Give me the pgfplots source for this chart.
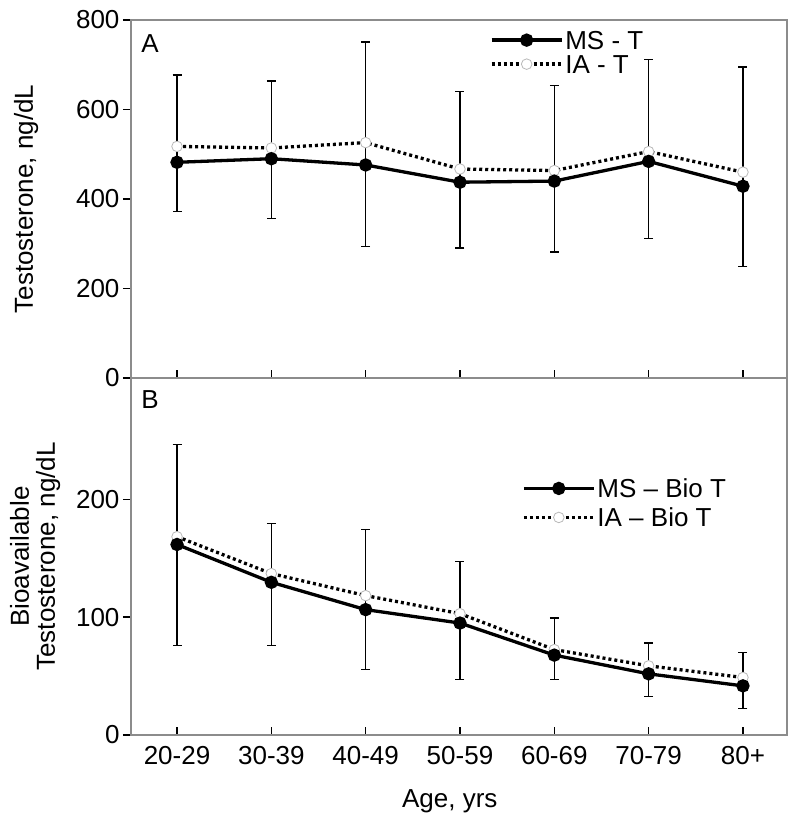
\documentclass[border=0pt]{standalone}
\usepackage{fontspec}
\setmainfont{Liberation Sans}
\usepackage{pgfplots}
\pgfplotsset{compat=1.18}
\definecolor{framegray}{gray}{0.55}
\pgfplotsset{
  panel/.style={
    scale only axis, width=656pt,
    xmin=-0.488, xmax=6.467,
    xtick={0,...,6},
    axis line style={framegray, line width=1.4pt},
    tick style={black, line width=1.4pt},
    major tick length=8pt,
    tick align=outside,
    x tick style={yshift=8pt},
    xtick pos=bottom, ytick pos=left,
    font=\fontsize{26}{30}\selectfont,
    tick label style={font=\fontsize{26}{30}\selectfont},
    /pgf/number format/assume math mode=true,
    clip=false,
    legend image code/.code={\draw[mark repeat=2,mark phase=2,##1] plot coordinates {(0pt,0pt)(35pt,0pt)(70pt,0pt)};},
    legend cell align=left,
  },
  msline/.style={black, line width=3.3pt, mark=*, mark size=5pt, mark options={solid, fill=black}},
  ialine/.style={black, line width=3.3pt, dash pattern=on 3pt off 3pt, mark=*, mark size=5.3pt, mark options={solid, fill=white, draw=gray!55, line width=0.8pt}},
  ebar/.style={only marks, mark=*, mark options={draw=none, fill=none}, forget plot,
    error bars/y dir=both, error bars/y explicit, error bars/error mark=-,
    error bars/error bar style={draw=black, solid, line width=1.3pt},
    error bars/error mark options={draw=black, solid, rotate=90, mark size=4.5pt, line width=1.3pt}},
}
\begin{document}
\begin{tikzpicture}
\useasboundingbox (-131pt,-91pt) rectangle (669pt,735pt);
% Panel A
\begin{axis}[panel, name=A, at={(0pt,357pt)}, anchor=south west, height=358pt,
  ymin=0, ymax=800, ytick={0,200,400,600,800},
  xticklabels={},
  ylabel={Testosterone, ng/dL},
  ylabel style={at={(axis description cs:-0.160,0.5)}, anchor=center},
  legend style={at={(axis description cs:0.547,0.975)}, anchor=north west, draw=none, fill=none, inner sep=0pt, row sep=2pt, nodes={inner sep=2pt, text height=18pt, text depth=0pt}},
]
\addplot[ebar] coordinates {
 (0,482) += (0,195) -= (0,110.5)
 (1,490) += (0,173.6) -= (0,133.4)
 (2,476) += (0,274.6) -= (0,182)
 (3,437.5) += (0,202.5) -= (0,146.9)
 (4,440) += (0,213) -= (0,158.4)
 (5,484) += (0,228) -= (0,172.3)
 (6,428.5) += (0,266.5) -= (0,179.1)
};
\addplot[ialine, forget plot] coordinates {(0,517.5)(1,514)(2,526)(3,467)(4,463.6)(5,506)(6,460)};
\addplot[msline, forget plot] coordinates {(0,482)(1,490)(2,476)(3,437.5)(4,440)(5,484)(6,428.5)};
\addlegendimage{msline}
\addlegendentry{MS - T}
\addlegendimage{ialine}
\addlegendentry{IA - T}
\node at (rel axis cs:0.029,0.933) {A};
\end{axis}
% Panel B
\begin{axis}[panel, name=B, at={(0pt,0pt)}, anchor=south west, height=357pt,
  ymin=0, ymax=303, ytick={0,100,200},
  xticklabels={20-29,30-39,40-49,50-59,60-69,70-79,80+},
  xlabel={Age, yrs},
  xlabel style={at={(axis description cs:0.486,-0.185)}, anchor=center},
  ylabel={Bioavailable\\Testosterone, ng/dL},
  ylabel style={at={(axis description cs:-0.146,0.5)}, anchor=center, align=center, font=\fontsize{26}{26}\selectfont},
  legend style={at={(axis description cs:0.596,0.722)}, anchor=north west, draw=none, fill=none, inner sep=0pt, row sep=7pt, nodes={inner sep=2pt, text height=18pt, text depth=0pt}},
]
\addplot[ebar] coordinates {
 (0,161.7) += (0,85.1) -= (0,85.7)
 (1,129.6) += (0,50) -= (0,53.6)
 (2,106.4) += (0,67.8) -= (0,51.1)
 (3,95) += (0,52.2) -= (0,47.6)
 (4,67.8) += (0,31.5) -= (0,20.4)
 (5,51.9) += (0,26.1) -= (0,19.3)
 (6,41.7) += (0,28.3) -= (0,19)
};
\addplot[ialine, forget plot] coordinates {(0,168.3)(1,137)(2,118.3)(3,103)(4,72.5)(5,58.7)(6,48.8)};
\addplot[msline, forget plot] coordinates {(0,161.7)(1,129.6)(2,106.4)(3,95)(4,67.8)(5,51.9)(6,41.7)};
\addlegendimage{msline}
\addlegendentry{MS -- Bio T}
\addlegendimage{ialine}
\addlegendentry{IA -- Bio T}
\node at (rel axis cs:0.029,0.941) {B};
\end{axis}
\end{tikzpicture}
\end{document}
